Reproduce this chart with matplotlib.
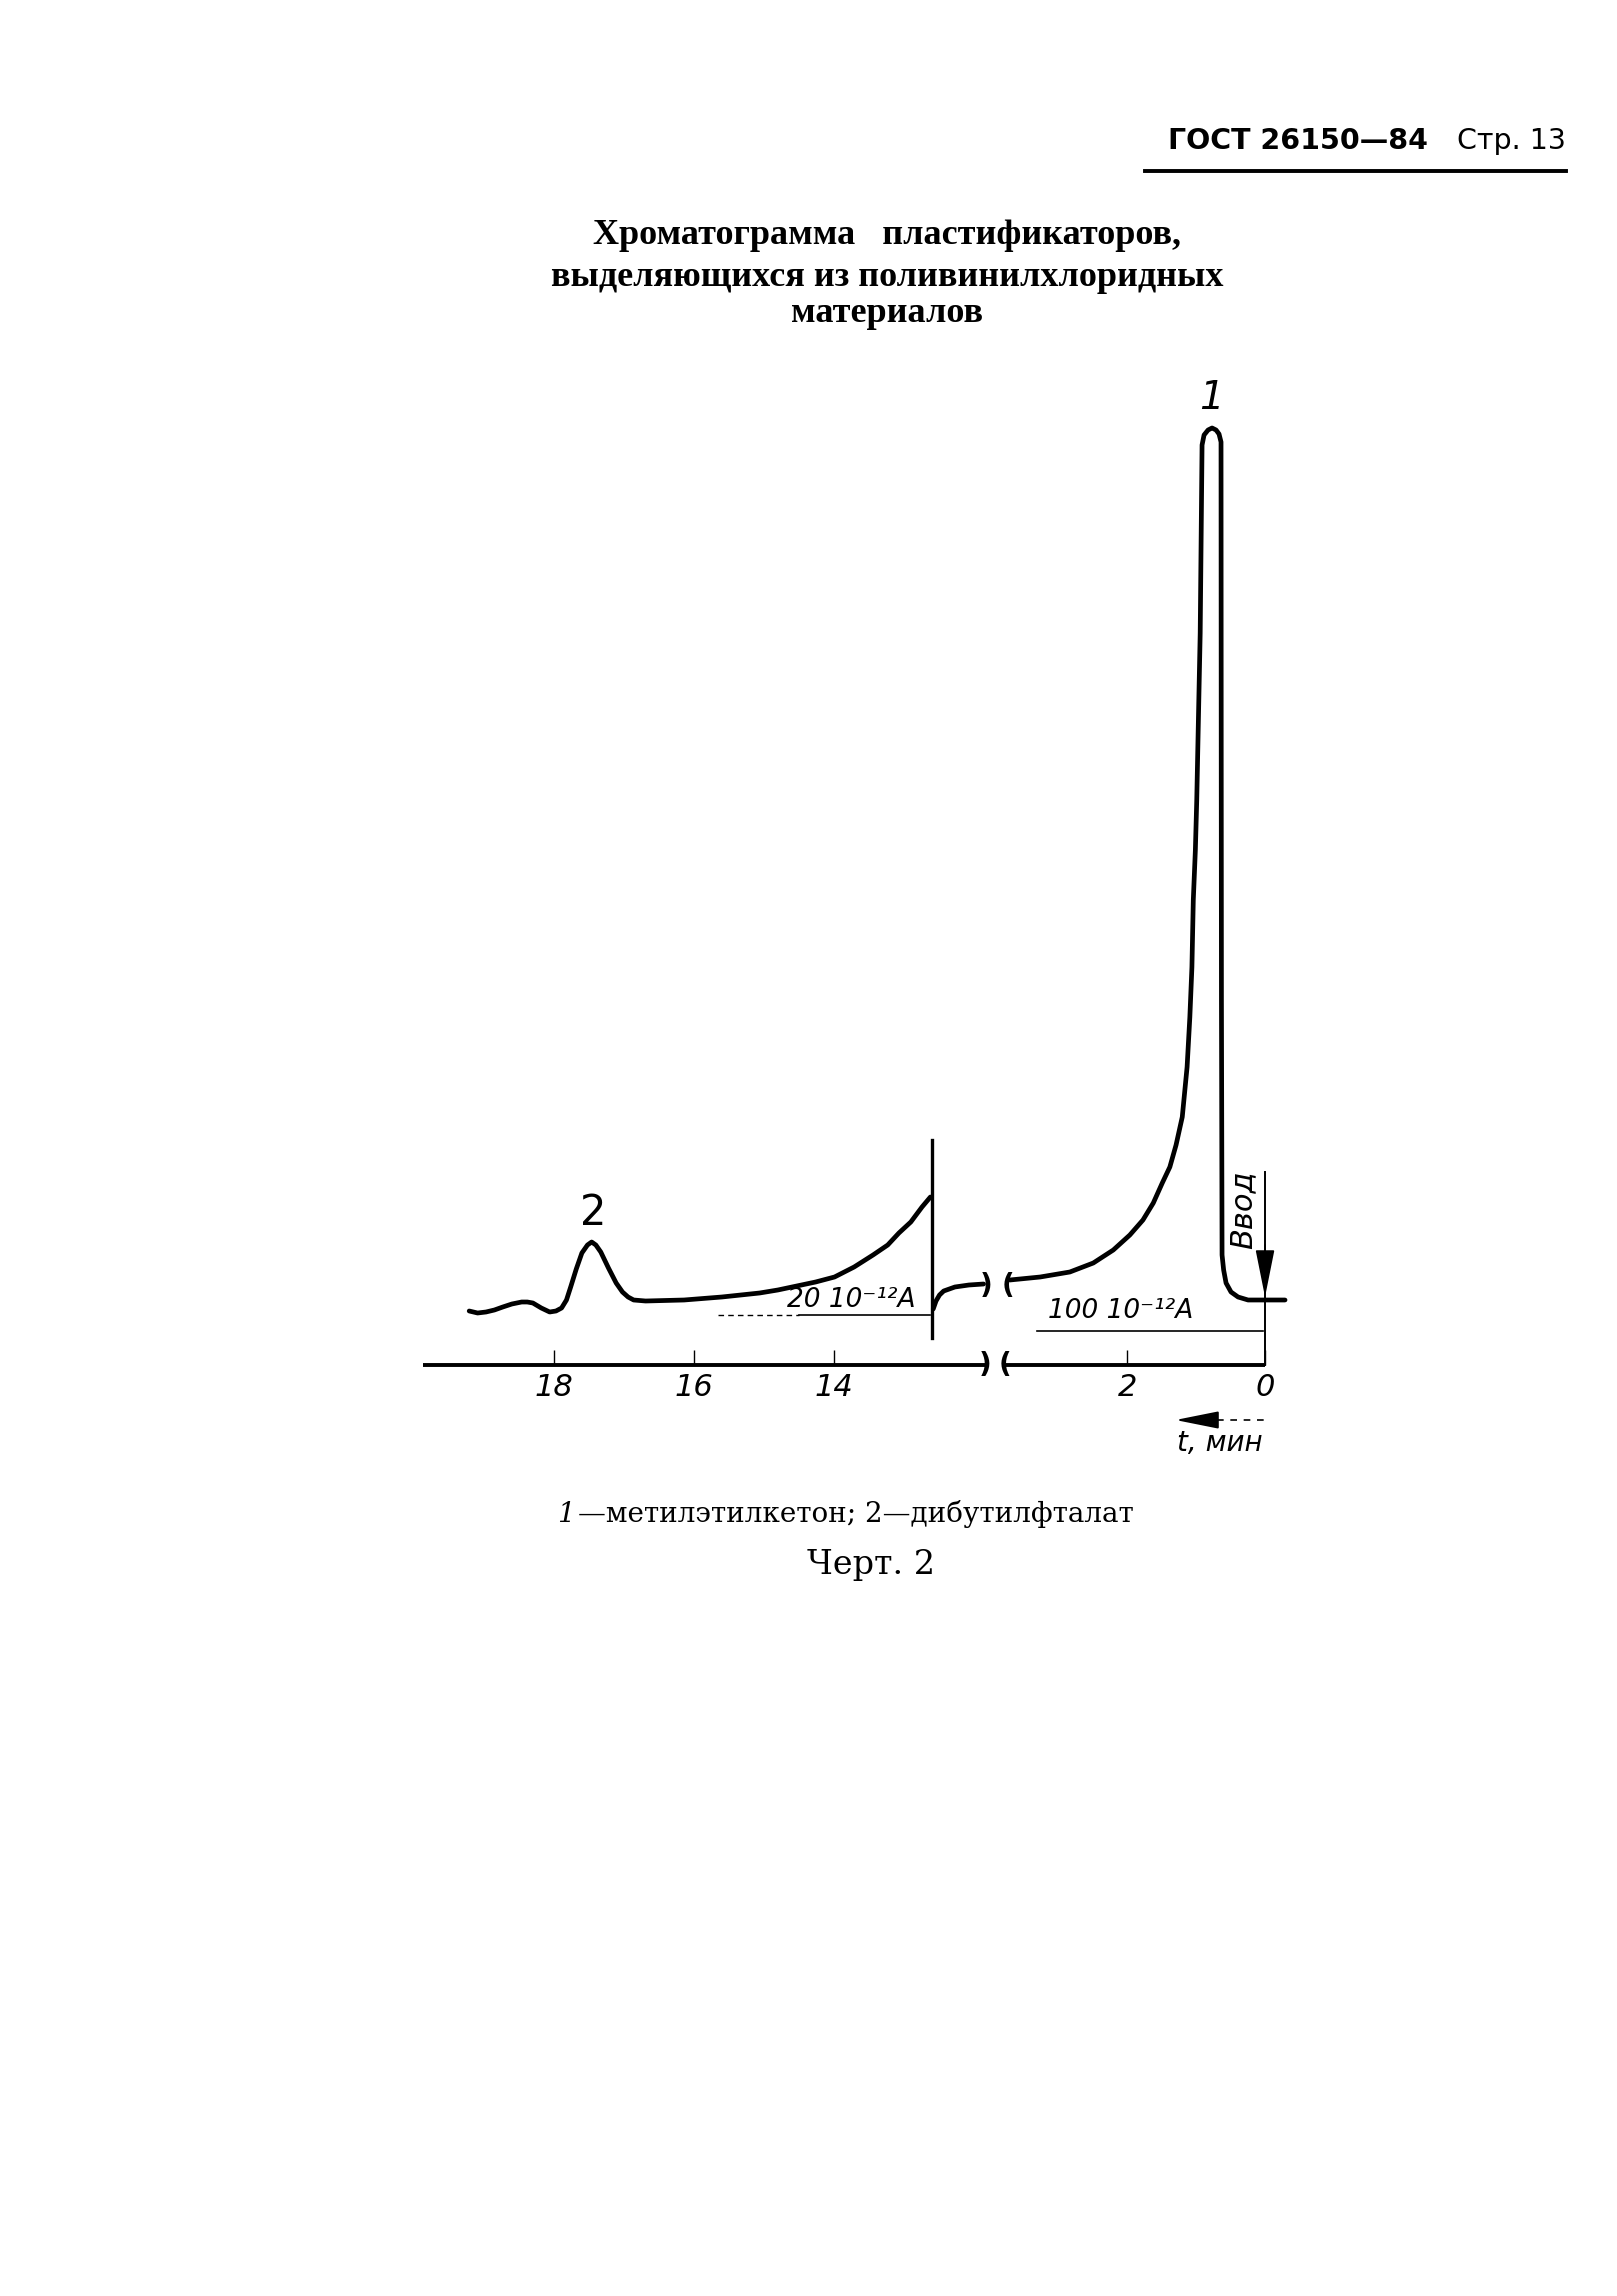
import matplotlib
matplotlib.use("Agg")
import matplotlib.pyplot as plt
from matplotlib.lines import Line2D

plt.rcParams['font.family'] = ['DejaVu Sans']

W, H, DPI = 1617, 2296, 100

# ---------------- data ----------------
# time, min (time runs to the left); signal in arbitrary chart units
# part recorded at 20·10^-12 A
t_left = [19.21, 19.09, 18.97, 18.85, 18.73, 18.60, 18.46, 18.38, 18.30, 18.18,
          18.06, 17.97, 17.89, 17.82, 17.76, 17.68, 17.60, 17.52, 17.46, 17.40,
          17.33, 17.22, 17.11, 17.02, 16.94, 16.86, 16.69, 16.14, 15.60, 15.06,
          14.80, 14.53, 14.26, 13.99, 13.71, 13.44, 13.23, 13.07, 12.90, 12.74,
          12.62]
s_left = [5.4, 5.2, 5.3, 5.5, 5.8, 6.1, 6.3, 6.3, 6.2, 5.7,
          5.3, 5.4, 5.7, 6.5, 7.8, 9.6, 11.2, 12.0, 12.3, 12.0,
          11.3, 9.7, 8.2, 7.3, 6.8, 6.5, 6.4, 6.5, 6.8, 7.2,
          7.5, 7.9, 8.3, 8.8, 9.8, 11.0, 12.0, 13.2, 14.3, 15.8,
          16.8]
# after attenuation switch
t_left2 = [12.58, 12.54, 12.49, 12.43, 12.35, 12.27, 12.07, 11.86]
s_left2 = [5.6, 6.4, 7.0, 7.4, 7.6, 7.8, 8.0, 8.1]
# attenuation switch marker
t_switch = 12.60
s_switch = [2.7, 22.5]
# part recorded at 100·10^-12 A
t_right = [3.70, 3.26, 2.83, 2.49, 2.20, 1.96, 1.77, 1.62, 1.49, 1.38,
           1.29, 1.20, 1.13, 1.09, 1.06, 1.04, 1.01, 0.99, 0.94, 0.913,
           0.884, 0.826, 0.768, 0.710, 0.667, 0.638, 0.635, 0.632, 0.623, 0.60,
           0.565, 0.493, 0.391, 0.246, 0.0, -0.29]
s_right = [8.5, 8.8, 9.3, 10.2, 11.5, 13.0, 14.5, 16.2, 18.2, 19.8,
           22.0, 24.8, 29.8, 34.8, 39.8, 46.5, 51.5, 56.5, 73.2, 92.0,
           93.0, 93.5, 93.7, 93.5, 93.1, 92.3, 60.0, 36.5, 11.0, 9.5,
           8.2, 7.3, 6.8, 6.5, 6.5, 6.5]

ticks_left = [18, 16, 14]
ticks_right = [2, 0]
tick_labels_left = ['18', '16', '14']
tick_labels_right = ['2', '0']

peak_labels = ['1', '2']
scale_left = '20 10⁻¹²A'
scale_right = '100 10⁻¹²A'
inject_label = 'Ввод'
time_label = 't, мин'

header_bold = 'ГОСТ 26150—84'
header_page = 'Стр. 13'
title_lines = ['Хроматограмма   пластификаторов,',
               'выделяющихся из поливинилхлоридных',
               'материалов']
caption_num = '1'
caption_rest = '—метилэтилкетон; 2—дибутилфталат'
fig_label = 'Черт. 2'

# ---------------- layout helpers ----------------
def fx(px):
    return px / W

def fy(py):
    return 1 - py / H

fig = plt.figure(figsize=(W / DPI, H / DPI), dpi=DPI)
fig.patch.set_facecolor('white')

# header
fig.text(fx(1168), fy(141), header_bold, fontsize=20.5, fontweight='bold',
         ha='left', va='center')
fig.text(fx(1566), fy(141), header_page, fontsize=20.5, ha='right', va='center')
fig.add_artist(Line2D([fx(1145), fx(1566)], [fy(171), fy(171)], lw=2.8,
                      color='black'))

# title
for txt, yy in zip(title_lines, [236, 277, 314]):
    fig.text(fx(887), fy(yy), txt, family=['Liberation Serif', 'DejaVu Serif'],
             fontweight='bold', fontsize=26, ha='center', va='center')

# caption
fig.text(fx(578), fy(1514), caption_rest, family=['DejaVu Serif'],
         fontsize=20, ha='left', va='center')
fig.text(fx(575), fy(1514), caption_num, family=['DejaVu Serif'],
         fontstyle='italic', fontsize=20, ha='right', va='center')
fig.text(fx(871), fy(1565), fig_label, family=['DejaVu Serif'],
         fontsize=24, ha='center', va='center')

# ---------------- axes ----------------
bot = fy(1365)
hgt = 1000 / H
axL = fig.add_axes([fx(423), bot, (985 - 423) / W, hgt])
axR = fig.add_axes([fx(1005), bot, (1290 - 1005) / W, hgt])
axL.set_xlim(19.87, 11.84)
axR.set_xlim(3.77, -0.362)

for ax in (axL, axR):
    ax.set_ylim(0, 100)
    ax.set_facecolor('none')
    for sp in ('left', 'right', 'top'):
        ax.spines[sp].set_visible(False)
    ax.spines['bottom'].set_linewidth(2.8)
    ax.spines['bottom'].set_capstyle('butt')
    ax.set_yticks([])
    ax.tick_params(axis='x', direction='in', length=11, width=1.0, pad=6,
                   labelsize=22)

axR.spines['bottom'].set_bounds(0, 3.77)
axL.set_xticks(ticks_left, tick_labels_left)
axR.set_xticks(ticks_right, tick_labels_right)
for ax in (axL, axR):
    for lab in ax.get_xticklabels():
        lab.set_fontstyle('italic')

LW = 3.4
kw = dict(color='black', lw=LW, solid_capstyle='round',
          solid_joinstyle='round', clip_on=False)
axL.plot(t_left, s_left, **kw)
axL.plot(t_left2, s_left2, **kw)
axL.plot([t_switch, t_switch], s_switch, color='black', lw=2.4, clip_on=False)
axR.plot(t_right, s_right, **kw)

# break marks
for ax, t, s, ch in [(axL, 11.84, 0, ')'), (axL, 11.83, 7.9, ')'),
                     (axR, 3.77, 0, '('), (axR, 3.72, 7.9, '(')]:
    ax.text(t, s, ch, fontsize=20, fontweight='bold', ha='center',
            va='center', clip_on=False)

# attenuation labels with underlines
axL.plot([14.5, 12.63], [5.0, 5.0], color='black', lw=1.2, clip_on=False)
axL.plot([15.66, 14.5], [5.0, 5.0], color='black', lw=1.0,
         ls=(0, (4, 3)), clip_on=False)
axL.text(12.84, 5.8, scale_left, fontsize=19, fontstyle='italic',
         ha='right', va='baseline')
axR.plot([3.30, 0.03], [3.4, 3.4], color='black', lw=1.2, clip_on=False)
axR.text(3.14, 4.7, scale_right, fontsize=19, fontstyle='italic',
         ha='left', va='baseline')

# peak labels
axL.text(17.44, 15.2, peak_labels[1], fontsize=30, ha='center', va='center')
axR.text(0.77, 96.7, peak_labels[0], fontsize=28, fontstyle='italic',
         ha='center', va='center', clip_on=False)

# injection arrow
axR.plot([0, 0], [0, 19.3], color='black', lw=1.4, clip_on=False)
axR.annotate('', xy=(0, 6.8), xytext=(0, 12.0),
             arrowprops=dict(arrowstyle='-|>,head_length=1.0,head_width=0.2',
                             lw=1.2, color='black', shrinkA=0, shrinkB=0,
                             mutation_scale=30),
             annotation_clip=False)
axR.text(0.32, 15.5, inject_label, rotation=90, fontsize=22,
         fontstyle='italic', ha='center', va='center')

# time direction arrow
axR.annotate('', xy=(1.30, -5.5), xytext=(0.754, -5.5),
             arrowprops=dict(arrowstyle='-|>,head_length=0.9,head_width=0.18',
                             lw=1.4, color='black', shrinkA=0, shrinkB=0,
                             mutation_scale=30),
             annotation_clip=False)
axR.plot([0.696, 0.0], [-5.5, -5.5], color='black', lw=1.2,
         ls=(0, (4, 4)), clip_on=False)
axR.text(0.65, -7.8, time_label, fontsize=20, fontstyle='italic',
         ha='center', va='center')

fig.savefig('out.png', dpi=DPI, facecolor='white')
